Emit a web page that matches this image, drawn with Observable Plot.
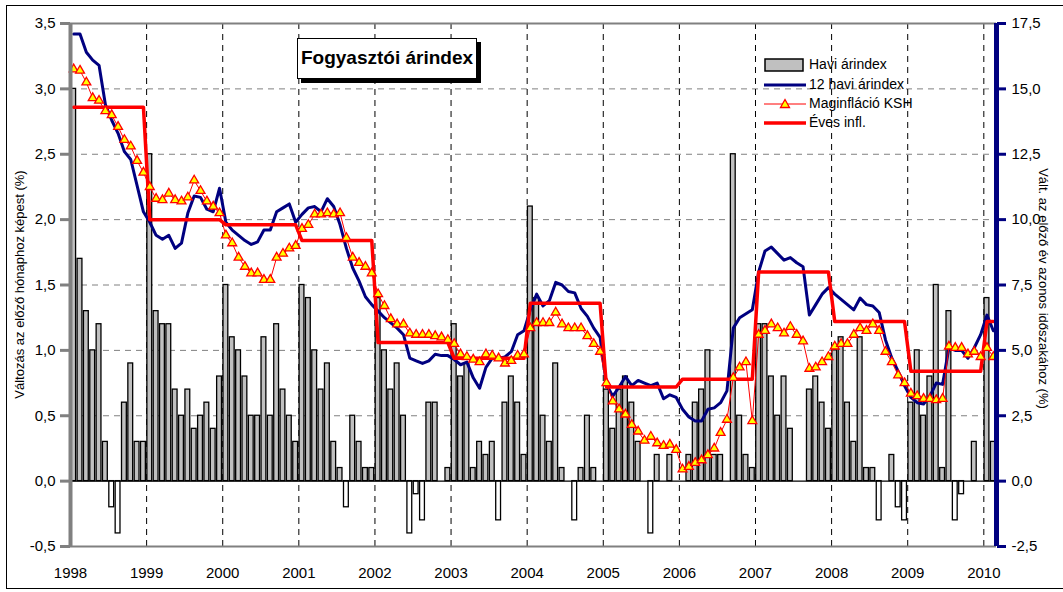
<!DOCTYPE html>
<html><head><meta charset="utf-8">
<script src="https://cdn.jsdelivr.net/npm/d3@7"></script>
<script src="https://cdn.jsdelivr.net/npm/@observablehq/plot@0.6"></script>
<style>
body{margin:0;background:#fff;overflow:hidden;font-family:"Liberation Sans",Arial,sans-serif;}
#wrap{position:relative;width:1063px;height:592px;overflow:hidden;}
#wrap svg{position:absolute;left:0;top:0;}
.frame{position:absolute;left:6px;top:5px;width:1100px;height:584px;border:1.5px solid #000;box-sizing:border-box;pointer-events:none;}
.title{position:absolute;left:297px;top:38px;width:180px;height:41px;border:1.5px solid #000;background:#fff;box-shadow:4px 4px 0 #000;box-sizing:border-box;font-weight:bold;font-size:19px;line-height:38px;text-align:center;}
.leg{position:absolute;font-size:14px;line-height:17px;white-space:nowrap;}
.legsw{position:absolute;}
.ytitle{position:absolute;font-size:13px;white-space:nowrap;line-height:15px;}
</style></head><body>
<div id="wrap"></div>
<script>
// Years on the category axis
const years = [1998,1999,2000,2001,2002,2003,2004,2005,2006,2007,2008,2009,2010];
// Havi árindex: change vs previous month (%), left axis, Jan 1998 – Feb 2010
const havi = [
  3.0, 1.7, 1.3, 1.0, 1.2, 0.3, -0.2, -0.4, 0.6, 0.9, 0.3, 0.3,
  2.5, 1.3, 1.2, 1.2, 0.7, 0.5, 0.7, 0.4, 0.5, 0.6, 0.4, 0.8,
  1.5, 1.1, 1.0, 0.8, 0.5, 0.5, 1.1, 0.5, 1.2, 0.7, 0.5, 0.3,
  1.5, 1.4, 1.0, 0.7, 0.9, 0.3, 0.1, -0.2, 0.5, 0.3, 0.1, 0.1,
  1.4, 1.0, 0.7, 0.9, 0.5, -0.4, -0.1, -0.3, 0.6, 0.6, 0.0, 0.1,
  1.2, 0.8, 0.9, 0.1, 0.3, 0.2, 0.3, -0.3, 0.6, 0.8, 0.6, 0.2,
  2.1, 1.4, 0.5, 0.3, 0.9, 0.1, 0.0, -0.3, 0.1, 0.5, 0.1, 0.0,
  0.7, 0.4, 0.7, 0.8, 0.6, 0.3, 0.0, -0.4, 0.2, 0.0, 0.2, 0.0,
  0.0, 0.2, 0.6, 0.7, 1.0, 0.2, 0.2, 0.0, 2.5, 0.5, 0.2, 0.1,
  1.2, 1.2, 0.8, 0.5, 0.8, 0.4, 0.0, 0.0, 0.7, 0.8, 0.6, 0.4,
  1.0, 1.1, 0.6, 0.3, 1.1, 0.1, 0.1, -0.3, 0.0, 0.2, -0.2, -0.3,
  0.6, 1.0, 0.5, 0.8, 1.5, 0.1, 1.3, -0.3, -0.1, 0.0, 0.3, 0.0,
  1.4, 0.3
];
// 12 havi árindex: change vs same period of previous year (%), right axis
const tizenketHavi = [
  17.1, 17.1, 16.4, 16.1, 15.9, 14.4, 13.8, 13.3, 12.6, 12.3, 11.3, 10.3,
  9.9, 9.4, 9.25, 9.4, 8.9, 9.1, 10.25, 10.9, 10.85, 10.4, 10.3, 11.2,
  9.9, 9.6, 9.4, 9.2, 9.05, 9.15, 9.6, 9.6, 10.3, 10.45, 10.6, 9.9,
  10.2, 10.45, 10.5, 10.3, 10.8, 10.5, 9.8, 8.9, 8.15, 7.65, 7.05, 6.75,
  6.5, 6.25, 6.05, 5.85, 5.6, 4.7, 4.6, 4.5, 4.6, 4.85, 4.8, 4.8,
  4.65, 4.45, 4.55, 3.95, 3.55, 4.35, 4.7, 4.7, 4.75, 4.95, 5.6, 5.75,
  6.55, 7.15, 6.7, 6.9, 7.6, 7.5, 7.25, 7.2, 6.6, 6.3, 5.85, 5.5,
  3.7, 3.25, 3.6, 4.0, 3.65, 3.85, 3.75, 3.65, 3.75, 3.15, 3.3, 3.2,
  2.75, 2.45, 2.3, 2.3, 2.75, 2.8, 3.0, 3.45, 5.85, 6.25, 6.4, 6.55,
  8.0, 8.8, 8.95, 8.7, 8.45, 8.55, 8.35, 8.2, 6.35, 6.75, 7.15, 7.4,
  7.15, 6.95, 6.75, 6.55, 7.0, 6.75, 6.7, 6.45, 5.4, 4.7, 4.2, 3.65,
  3.2, 3.0, 2.95, 3.25, 3.75, 3.7, 5.1, 5.0, 5.0, 4.7, 5.1, 5.6,
  6.35, 5.75
];
// Maginfláció KSH (core inflation, %), right axis
const maginflacio = [
  15.75, 15.7, 15.25, 14.65, 14.55, 14.15, 14.0, 13.55, 13.05, 12.8, 12.25, 11.8,
  11.25, 10.8, 10.75, 11.0, 10.75, 10.7, 10.85, 11.5, 11.1, 10.7, 10.5, 10.25,
  9.4, 9.1, 8.55, 8.2, 7.95, 7.95, 7.7, 7.7, 8.55, 8.7, 8.9, 9.0,
  9.65, 9.8, 10.2, 10.2, 10.25, 10.2, 10.25, 9.3, 8.55, 8.35, 8.2, 7.95,
  7.15, 6.7, 6.2, 6.0, 6.0, 5.65, 5.6, 5.6, 5.6, 5.55, 5.5, 5.4,
  5.25, 4.85, 4.75, 4.65, 4.55, 4.85, 4.8, 4.7, 4.5, 4.6, 4.8, 4.85,
  5.85, 6.05, 6.05, 6.05, 6.45, 6.0, 5.85, 5.85, 5.85, 5.55, 5.25, 4.95,
  3.75, 3.05, 2.75, 2.55, 2.15, 1.9, 1.55, 1.7, 1.45, 1.35, 1.4, 1.2,
  0.45, 0.55, 0.7, 0.8, 1.0, 1.25, 1.85, 2.35, 3.95, 4.35, 4.55, 2.3,
  5.6, 5.75, 6.0, 5.85, 5.65, 5.9, 5.6, 5.35, 4.3, 4.35, 4.55, 4.75,
  5.15, 5.25, 5.25, 5.6, 5.85, 5.75, 6.0, 5.75, 4.95, 4.55, 4.05, 3.75,
  3.35, 3.25, 3.15, 3.15, 3.1, 3.15, 5.15, 5.1, 5.1, 4.85, 4.95, 4.75,
  5.1, 4.75
];
// Éves infl.: annual inflation per year (%), right axis
const evesInfl = [14.3, 10.0, 9.8, 9.2, 5.3, 4.7, 6.8, 3.6, 3.9, 8.0, 6.1, 4.2, 6.1];
// Axis tick values
const leftTicks = [-0.5, 0, 0.5, 1, 1.5, 2, 2.5, 3, 3.5];
const rightTicks = [-2.5, 0, 2.5, 5, 7.5, 10, 12.5, 15, 17.5];
const ratio = 5; // right axis = left axis × 5

const N = havi.length;
const months = d3.range(N);
const fmt = v => v.toFixed(1).replace(".", ",").replace("-0,0", "0,0");
const bars = months.map(i => ({i, v: havi[i]})).filter(d => d.v !== 0);

const chart = Plot.plot({
  width: 1063, height: 592,
  marginLeft: 70, marginRight: 67, marginTop: 23, marginBottom: 46,
  style: {fontFamily: "'Liberation Sans', Arial, sans-serif", fontSize: "15px", background: "transparent", color: "#000"},
  x: {domain: [0, N], axis: null, label: null},
  y: {domain: [-0.5, 3.5], axis: null, label: null},
  marks: [
    Plot.ruleY(leftTicks.filter(t => t > -0.5 && t < 3.5 && t !== 0), {stroke: "#808080", strokeDasharray: "6,5", strokeWidth: 1}),
    Plot.ruleX(d3.range(12, N, 12), {stroke: "#000", strokeDasharray: "6,5", strokeWidth: 1}),
    Plot.ruleY([-0.5, 3.5], {stroke: "#808080", strokeWidth: 2}),
    Plot.rectY(bars, {x1: d => d.i + 0.12, x2: d => d.i + 0.88, y1: 0, y2: d => d.v,
      fill: d => d.v < 0 ? "#ffffff" : "#c0c0c0", stroke: "#000", strokeWidth: 1.3}),
    Plot.ruleY([0], {stroke: "#000", strokeWidth: 1.2}),
    Plot.line(months, {x: i => i + 0.5, y: i => tizenketHavi[i] / ratio, stroke: "#000080", strokeWidth: 3}),
    Plot.line(months, {x: i => i + 0.5, y: i => evesInfl[Math.floor(i / 12)] / ratio, stroke: "#ff0000", strokeWidth: 3.5}),
    Plot.line(months, {x: i => i + 0.5, y: i => maginflacio[i] / ratio, stroke: "#ff0000", strokeWidth: 1}),
    Plot.dot(months, {x: i => i + 0.5, y: i => maginflacio[i] / ratio, symbol: "triangle", r: 3.3,
      fill: "#ffff00", stroke: "#ff0000", strokeWidth: 1.3}),
    Plot.ruleX([0], {stroke: "#808080", strokeWidth: 4}),
    Plot.axisY({anchor: "left", label: null, ticks: leftTicks, tickFormat: fmt, tickSize: 10, tickPadding: 5,
      stroke: "#808080", strokeWidth: 3, fontSize: 15}),
    Plot.ruleX([N], {stroke: "#000080", strokeWidth: 5}),
    Plot.axisY({anchor: "right", label: null, ticks: rightTicks.map(t => t / ratio), tickFormat: d => fmt(d * ratio),
      tickSize: 9, tickPadding: 6, stroke: "#000080", strokeWidth: 3, fontSize: 15}),
    Plot.axisX({label: null, ticks: d3.range(0, N, 12), tickFormat: d => String(years[d / 12]), tickSize: 0, tickPadding: 21, fontSize: 15})
  ]
});

const wrap = document.getElementById("wrap");
wrap.appendChild(chart);

function add(html) { wrap.insertAdjacentHTML("beforeend", html); }
add(`<div class="frame"></div>`);
add(`<div class="title">Fogyasztói árindex</div>`);

// Legend
const legendItems = [
  {label: "Havi árindex", type: "bar", cy: 65},
  {label: "12 havi árindex", type: "blue", cy: 85},
  {label: "Maginfláció KSH", type: "magin", cy: 104},
  {label: "Éves infl.", type: "eves", cy: 123}
];
for (const it of legendItems) {
  let sw = "";
  if (it.type === "bar") sw = `<rect x="1" y="3" width="38" height="12" fill="#c0c0c0" stroke="#000" stroke-width="1.5"/>`;
  if (it.type === "blue") sw = `<line x1="0" x2="42" y1="9" y2="9" stroke="#000080" stroke-width="3"/>`;
  if (it.type === "magin") sw = `<line x1="0" x2="42" y1="9" y2="9" stroke="#ff0000" stroke-width="1"/><path d="M21,4.5 L25.5,12.5 L16.5,12.5 Z" fill="#ffff00" stroke="#ff0000" stroke-width="1.3"/>`;
  if (it.type === "eves") sw = `<line x1="0" x2="42" y1="9" y2="9" stroke="#ff0000" stroke-width="3.5"/>`;
  add(`<svg class="legsw" style="left:764px;top:${it.cy - 9}px" width="44" height="18">${sw}</svg>`);
  add(`<div class="leg" style="left:809px;top:${it.cy - 9}px">${it.label}</div>`);
}

// Axis titles
add(`<div class="ytitle" id="lt">Változás az előző hónaphoz képest (%)</div>`);
add(`<div class="ytitle" id="rt">Vált. az előző év azonos időszakához (%)</div>`);
const lt = document.getElementById("lt"), rt = document.getElementById("rt");
const lw = lt.offsetWidth, rw = rt.offsetWidth;
lt.style.left = (19 - lw / 2) + "px"; lt.style.top = (284 - 7.5) + "px"; lt.style.transform = "rotate(-90deg)";
rt.style.left = (1043 - rw / 2) + "px"; rt.style.top = (288 - 7.5) + "px"; rt.style.transform = "rotate(90deg)";
</script>
</body></html>
